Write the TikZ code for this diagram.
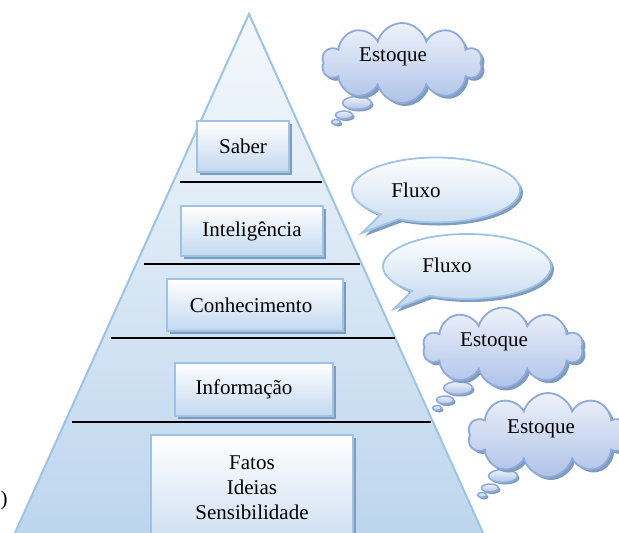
\documentclass[tikz,border=0pt]{standalone}
\usepackage{fontspec}
\setmainfont{Liberation Serif}
\usetikzlibrary{shapes.symbols,shapes.callouts,shapes.geometric,shadows}
\definecolor{edgeblue}{HTML}{9DC3E6}
\definecolor{cloudedge}{HTML}{8EAADB}
\definecolor{shadowblue}{HTML}{7F9CBF}
\definecolor{pyrtop}{HTML}{F4F8FC}
\definecolor{pyrbottom}{HTML}{B9D3EC}
\definecolor{boxbottom}{HTML}{C3D8EF}
\definecolor{cloudtop}{HTML}{EEF2FA}
\definecolor{cloudbottom}{HTML}{AFC3E8}
\begin{document}
\begin{tikzpicture}[x=1pt,y=1pt,
		every node/.style={font=\fontsize{21}{25}\selectfont},
		softshadow/.style={drop shadow={shadow xshift=3pt,shadow yshift=-3pt,fill=shadowblue,opacity=1}},
		level/.style={draw=edgeblue,line width=2.2pt,top color=white,bottom color=boxbottom,inner sep=0pt,softshadow},
		thought/.style={cloud,cloud puffs=10,aspect=2,draw=cloudedge,line width=1.8pt,top color=cloudtop,bottom color=cloudbottom,inner sep=0pt,minimum width=160pt,minimum height=80pt,softshadow},
		bubble/.style={ellipse,draw=cloudedge,line width=1.5pt,top color=cloudtop,bottom color=cloudbottom,inner sep=0pt,drop shadow={shadow xshift=2pt,shadow yshift=-2pt,fill=shadowblue,opacity=1}},
		speech/.style={ellipse callout,draw=edgeblue,line width=1.8pt,top color=white,bottom color=boxbottom,inner sep=0pt,minimum width=168pt,minimum height=65pt,softshadow}]
		\clip (0,0) rectangle (619,-533);
		\draw[draw=edgeblue,line width=2pt,top color=pyrtop,bottom color=pyrbottom] (249,-14) -- (-4,-575) -- (502,-575) -- cycle;
		\draw[line width=1.8pt] (180,-182) -- (322,-182);
		\draw[line width=1.8pt] (144,-264) -- (360,-264);
		\draw[line width=1.8pt] (111,-338) -- (395,-338);
		\draw[line width=1.8pt] (72,-422) -- (431,-422);
		\node[level,minimum width=92pt,minimum height=51pt] (saber) at (243,-146.5) {Saber};
		\node[level,minimum width=142pt,minimum height=50pt] (inteligencia) at (252,-231) {Inteligência};
		\node[level,minimum width=176pt,minimum height=52pt] (conhecimento) at (255,-305) {Conhecimento\hspace*{8pt}};
		\node[level,minimum width=158pt,minimum height=53pt] (informacao) at (254,-389.5) {Informação\hspace*{20pt}};
		\node[level,minimum width=202pt,minimum height=130pt,anchor=north,label={[anchor=north,yshift=-18pt,align=center]north:Fatos\\Ideias\\Sensibilidade}] (fatos) at (252,-434) {};
		\node[speech,callout absolute pointer={(362,-233)},label={[xshift=-20pt]center:Fluxo}] (fluxo1) at (436,-190) {};
		\node[speech,callout absolute pointer={(394,-309)},label={[xshift=-20pt,yshift=1pt]center:Fluxo}] (fluxo2) at (467,-266.5) {};
		\node[bubble,minimum width=29pt,minimum height=13pt] (b1a) at (357,-103) {};
		\node[bubble,minimum width=17pt,minimum height=8pt] (b1b) at (344,-115) {};
		\node[bubble,minimum width=9pt,minimum height=5pt] (b1c) at (336,-122) {};
		\node[thought,label={[xshift=-9pt,yshift=6pt]center:Estoque}] (estoque1) at (402,-63) {};
		\node[bubble,minimum width=29pt,minimum height=13pt] (b2a) at (458,-388) {};
		\node[bubble,minimum width=17pt,minimum height=8pt] (b2b) at (445,-400) {};
		\node[bubble,minimum width=9pt,minimum height=5pt] (b2c) at (437,-408) {};
		\node[thought,label={[xshift=-9pt,yshift=6pt]center:Estoque}] (estoque2) at (503,-347.5) {};
		\node[bubble,minimum width=29pt,minimum height=13pt] (b3a) at (503,-476) {};
		\node[bubble,minimum width=17pt,minimum height=8pt] (b3b) at (490,-488) {};
		\node[bubble,minimum width=9pt,minimum height=5pt] (b3c) at (482,-495) {};
		\node[thought,minimum height=84pt,label={[xshift=-7pt,yshift=6pt]center:Estoque}] (estoque3) at (548,-435) {};
		\node (paren) at (4,-500) {)};
	\end{tikzpicture}
\end{document}
